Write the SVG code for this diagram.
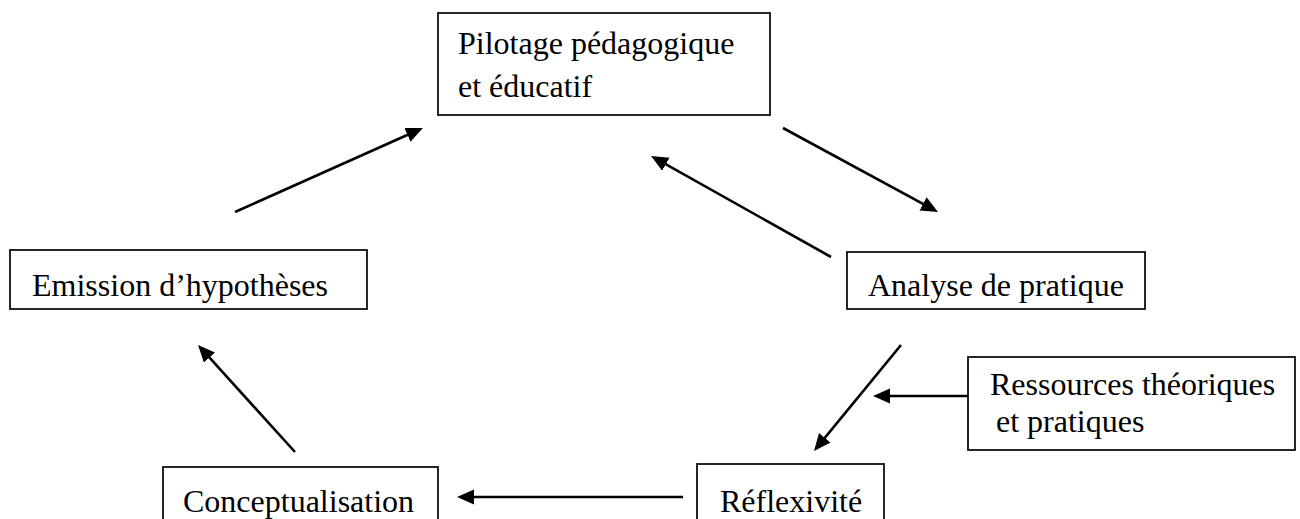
<svg xmlns="http://www.w3.org/2000/svg" width="1300" height="519" viewBox="0 0 1300 519">
<style>
.box{fill:#fff;stroke:#000;stroke-width:1.7}
.t{font-family:"Liberation Serif","Times New Roman",serif;font-size:32px;fill:#000}
.c{stroke:#000;stroke-width:2.6;fill:none;marker-end:url(#ah)}
</style>
<defs>
<marker id="ah" markerUnits="userSpaceOnUse" markerWidth="18" markerHeight="16" viewBox="0 0 18 16" refX="12" refY="7.5" orient="auto">
<path d="M0,0 L17,7.5 L0,15 z" fill="#000"/>
</marker>
</defs>
<rect width="1300" height="519" fill="#fff"/>
<g id="n-pilotage"><rect class="box" x="438" y="13" width="332" height="102"/><text class="t" x="458" y="54">Pilotage pédagogique</text><text class="t" x="458" y="97">et éducatif</text></g>
<g id="n-emission"><rect class="box" x="10" y="250" width="357" height="59"/><text class="t" x="32" y="296">Emission d’hypothèses</text></g>
<g id="n-analyse"><rect class="box" x="847" y="252" width="298" height="57"/><text class="t" x="868" y="296">Analyse de pratique</text></g>
<g id="n-ressources"><rect class="box" x="968" y="357" width="327" height="93"/><text class="t" x="990" y="395">Ressources théoriques</text><text class="t" x="996" y="432">et pratiques</text></g>
<g id="n-concept"><rect class="box" x="163" y="467" width="275" height="60"/><text class="t" x="183" y="512">Conceptualisation</text></g>
<g id="n-reflex"><rect class="box" x="697" y="464" width="187" height="63"/><text class="t" x="720" y="512">Réflexivité</text></g>
<g id="connectors">
<line class="c" x1="235" y1="212" x2="418.4" y2="130"/>
<line class="c" x1="783" y1="128" x2="933.6" y2="209.6"/>
<line class="c" x1="831" y1="257" x2="655.4" y2="158.4"/>
<line class="c" x1="901" y1="345" x2="817.2" y2="447.1"/>
<line class="c" x1="968" y1="396" x2="878" y2="396"/>
<line class="c" x1="295" y1="452" x2="201.4" y2="348.7"/>
<line class="c" x1="683" y1="497" x2="462" y2="497"/>
</g>
</svg>
